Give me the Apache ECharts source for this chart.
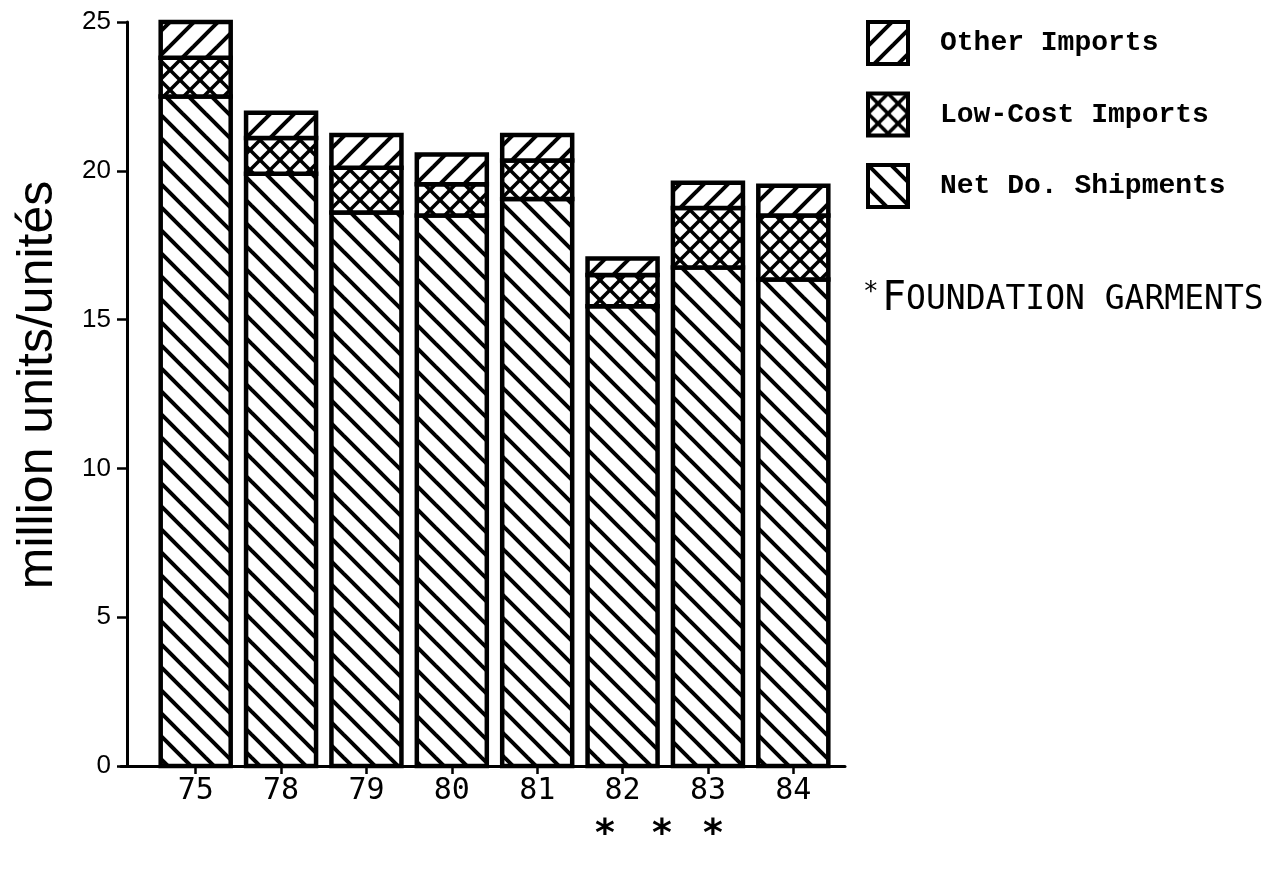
<!DOCTYPE html>
<html>
<head>
<meta charset="utf-8">
<script src="https://cdn.jsdelivr.net/npm/echarts@6/dist/echarts.min.js"></script>
<style>
html,body{margin:0;padding:0;background:#fff;}
#chart{width:1276px;height:881px;}
</style>
</head>
<body>
<div id="chart"></div>
<script>
// ---- data ----
const categories = ['75', '78', '79', '80', '81', '82', '83', '84'];
const netDomestic = [22.5, 19.9, 18.6, 18.5, 19.05, 15.45, 16.75, 16.35];
const lowCostImports = [1.3, 1.2, 1.5, 1.05, 1.3, 1.05, 2.0, 2.15];
const otherImports = [1.2, 0.85, 1.1, 1.0, 0.85, 0.55, 0.85, 1.0];
const seriesNames = ['Other Imports', 'Low-Cost Imports', 'Net Do. Shipments'];
const yMin = 0, yMax = 25, yInterval = 5;
const yAxisName = 'million units/unités';
const noteFirst = 'F';
const noteRest = 'OUNDATION GARMENTS';

// ---- hatch patterns ----
function hatch(T, lw, dirs) {
  const c = document.createElement('canvas');
  c.width = T; c.height = T;
  const ctx = c.getContext('2d');
  ctx.fillStyle = '#fff';
  ctx.fillRect(0, 0, T, T);
  ctx.strokeStyle = '#000';
  ctx.lineWidth = lw;
  ctx.lineCap = 'butt';
  for (const d of dirs) {
    for (let k = -1; k <= 1; k++) {
      ctx.beginPath();
      if (d === 'back') { ctx.moveTo(k * T - T, -T); ctx.lineTo(k * T + 2 * T, 2 * T); }
      else { ctx.moveTo(k * T - T, 2 * T); ctx.lineTo(k * T + 2 * T, -T); }
      ctx.stroke();
    }
  }
  return { image: c, repeat: 'repeat' };
}
const patNet = hatch(23, 4, ['back']);
const patOther = hatch(24, 4, ['fwd']);
const patLow = hatch(20, 3.5, ['back', 'fwd']);

// stacked segments [categoryIndex, base, top] built from the arrays
function segments(values, bases) {
  return values.map((v, i) => [i, bases[i], bases[i] + v]);
}
const base0 = categories.map(() => 0);
const base1 = netDomestic.map((v, i) => v);
const base2 = netDomestic.map((v, i) => v + lowCostImports[i]);

const BAR_W = 70;
function makeRender(pattern) {
  return function (params, api) {
    const x = api.value(0), lo = api.value(1), hi = api.value(2);
    const pLo = api.coord([x, lo]);
    const pHi = api.coord([x, hi]);
    return {
      type: 'rect',
      shape: { x: pLo[0] - BAR_W / 2, y: pHi[1], width: BAR_W, height: pLo[1] - pHi[1] },
      style: { fill: pattern, stroke: '#000', lineWidth: 4.5 }
    };
  };
}

const chart = echarts.init(document.getElementById('chart'), null, { renderer: 'canvas' });

chart.setOption({
  animation: false,
  backgroundColor: '#fff',
  grid: [
    { left: 153, width: 683, top: 22, bottom: 115 },
    { left: 121, width: 724, top: 22, bottom: 115 }
  ],
  xAxis: [
    {
      type: 'category', gridIndex: 0, data: categories,
      axisLine: { show: false },
      axisTick: { show: true, alignWithLabel: true, length: 8, lineStyle: { color: '#000', width: 2.5 } },
      axisLabel: { color: '#000', fontSize: 30, fontFamily: 'DejaVu Sans Mono', margin: 10 }
    },
    {
      type: 'value', gridIndex: 1, min: 0, max: 1,
      axisLine: { show: true, lineStyle: { color: '#000', width: 3 } },
      axisTick: { show: false }, axisLabel: { show: false }, splitLine: { show: false }
    }
  ],
  yAxis: [
    { type: 'value', gridIndex: 0, min: yMin, max: yMax, interval: yInterval, show: false },
    {
      type: 'value', gridIndex: 1, min: yMin, max: yMax, interval: yInterval, offset: -6,
      axisLine: { show: true, lineStyle: { color: '#000', width: 3 } },
      axisTick: { show: true, length: 10, lineStyle: { color: '#000', width: 2.5 } },
      axisLabel: { color: '#000', fontSize: 26, fontFamily: 'Liberation Sans', margin: 16 },
      splitLine: { show: false },
      name: yAxisName, nameLocation: 'middle', nameRotate: 90, nameGap: 64,
      nameTextStyle: { color: '#000', fontSize: 50, fontFamily: 'Liberation Sans', padding: [0, 0, 0, 18] }
    }
  ],
  legend: {
    orient: 'vertical', left: 866, top: 20, padding: 0,
    itemWidth: 40, itemHeight: 42, itemGap: 25.5,
    data: seriesNames,
    icon: 'rect',
    itemStyle: { borderColor: '#000', borderWidth: 4 },
    textStyle: { color: '#000', fontSize: 28, fontWeight: 'bold', fontFamily: 'Liberation Mono', padding: [0, 0, 0, 27] }
  },
  series: [
    { name: seriesNames[2], type: 'custom', xAxisIndex: 0, yAxisIndex: 0, data: segments(netDomestic, base0), renderItem: makeRender(patNet), itemStyle: { color: patNet, borderColor: '#000', borderWidth: 4 }, encode: { x: 0, y: [1, 2] } },
    { name: seriesNames[1], type: 'custom', xAxisIndex: 0, yAxisIndex: 0, data: segments(lowCostImports, base1), renderItem: makeRender(patLow), itemStyle: { color: patLow, borderColor: '#000', borderWidth: 4 }, encode: { x: 0, y: [1, 2] } },
    { name: seriesNames[0], type: 'custom', xAxisIndex: 0, yAxisIndex: 0, data: segments(otherImports, base2), renderItem: makeRender(patOther), itemStyle: { color: patOther, borderColor: '#000', borderWidth: 4 }, encode: { x: 0, y: [1, 2] } }
  ],
  graphic: [
    {
      type: 'text', left: 863, top: 280,
      style: {
        text: '{s|*} {b|' + noteFirst + '}{r|' + noteRest + '}',
        rich: {
          s: { fontSize: 26, fontFamily: 'DejaVu Sans Mono', fill: '#000', verticalAlign: 'top' },
          b: { fontSize: 40, fontFamily: 'DejaVu Sans Mono', fill: '#000' },
          r: { fontSize: 33, fontFamily: 'DejaVu Sans Mono', fill: '#000' }
        },
        fill: '#000'
      }
    },
    { type: 'text', x: 605, y: 835, style: { text: '*', fontSize: 38, fontWeight: 'bold', fontFamily: 'DejaVu Sans Mono', fill: '#000', align: 'center', verticalAlign: 'middle' } },
    { type: 'text', x: 662, y: 835, style: { text: '*', fontSize: 38, fontWeight: 'bold', fontFamily: 'DejaVu Sans Mono', fill: '#000', align: 'center', verticalAlign: 'middle' } },
    { type: 'text', x: 713, y: 835, style: { text: '*', fontSize: 38, fontWeight: 'bold', fontFamily: 'DejaVu Sans Mono', fill: '#000', align: 'center', verticalAlign: 'middle' } }
  ]
});
</script>
</body>
</html>
